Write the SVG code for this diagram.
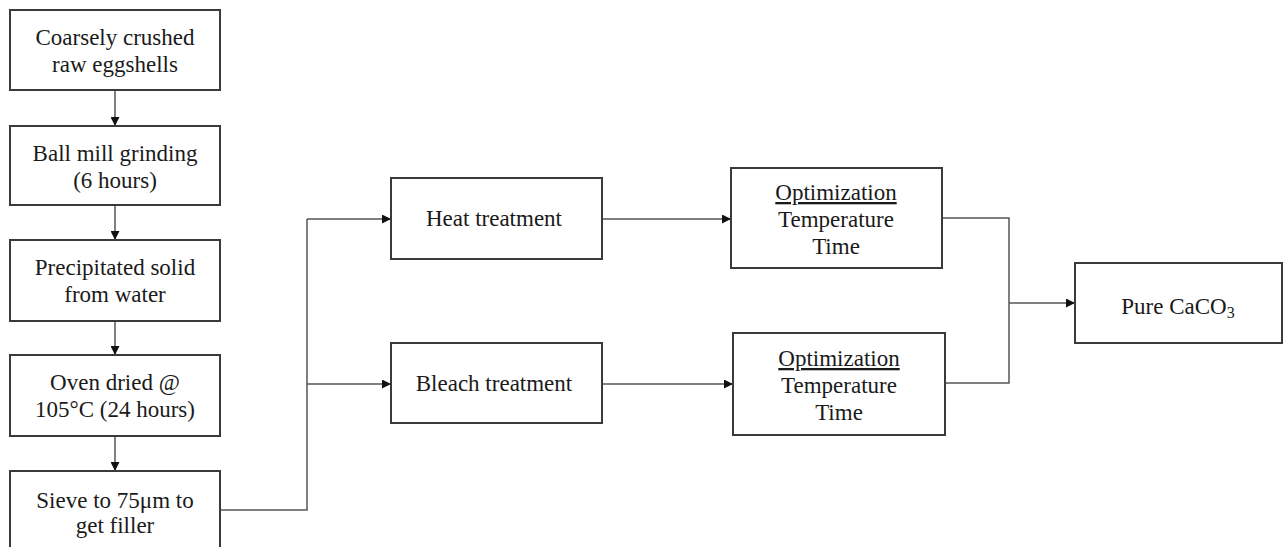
<svg xmlns="http://www.w3.org/2000/svg" width="1284" height="547" viewBox="0 0 1284 547">
<style>
.box{fill:#fff;stroke:#3a3a3a;stroke-width:2}
.t{font-family:"Liberation Serif","Times New Roman",serif;font-size:23px;fill:#1a1a1a;text-anchor:middle}
.c{fill:none;stroke:#555;stroke-width:1.5}
</style>
<defs>
<marker id="ah" viewBox="0 0 10 10" refX="10" refY="5" markerWidth="9" markerHeight="9" markerUnits="userSpaceOnUse" orient="auto">
<path d="M0,0 L10,5 L0,10 z" fill="#111"/>
</marker>
</defs>
<rect width="1284" height="547" fill="#fff"/>
<g id="connectors">
<line class="c" x1="115" y1="90" x2="115" y2="126" marker-end="url(#ah)"/>
<line class="c" x1="115" y1="205" x2="115" y2="240" marker-end="url(#ah)"/>
<line class="c" x1="115" y1="321" x2="115" y2="355" marker-end="url(#ah)"/>
<line class="c" x1="115" y1="436" x2="115" y2="471" marker-end="url(#ah)"/>
<polyline class="c" points="220,510 307,510 307,219"/>
<line class="c" x1="307" y1="219" x2="391" y2="219" marker-end="url(#ah)"/>
<line class="c" x1="307" y1="384" x2="391" y2="384" marker-end="url(#ah)"/>
<line class="c" x1="602" y1="219" x2="731" y2="219" marker-end="url(#ah)"/>
<line class="c" x1="602" y1="384" x2="733" y2="384" marker-end="url(#ah)"/>
<polyline class="c" points="942,218 1009,218 1009,383 945,383"/>
<line class="c" x1="1009" y1="303" x2="1075" y2="303" marker-end="url(#ah)"/>
</g>
<g id="n1"><rect class="box" x="10" y="10" width="210" height="80"/>
<text class="t" x="115" y="45">Coarsely crushed</text><text class="t" x="115" y="72">raw eggshells</text></g>
<g id="n2"><rect class="box" x="10" y="126" width="210" height="79"/>
<text class="t" x="115" y="161">Ball mill grinding</text><text class="t" x="115" y="188">(6 hours)</text></g>
<g id="n3"><rect class="box" x="10" y="240" width="210" height="81"/>
<text class="t" x="115" y="275">Precipitated solid</text><text class="t" x="115" y="302">from water</text></g>
<g id="n4"><rect class="box" x="10" y="355" width="210" height="81"/>
<text class="t" x="115" y="390">Oven dried @</text><text class="t" x="115" y="417">105°C (24 hours)</text></g>
<g id="n5"><rect class="box" x="10" y="471" width="210" height="90"/>
<text class="t" x="115" y="508">Sieve to 75μm to</text><text class="t" x="115" y="533">get filler</text></g>
<g id="n6"><rect class="box" x="391" y="178" width="211" height="81"/>
<text class="t" x="494" y="226">Heat treatment</text></g>
<g id="n7"><rect class="box" x="391" y="343" width="211" height="80"/>
<text class="t" x="494" y="391">Bleach treatment</text></g>
<g id="n8"><rect class="box" x="731" y="168" width="211" height="100"/>
<text class="t" x="836" y="200" text-decoration="underline">Optimization</text><text class="t" x="836" y="227">Temperature</text><text class="t" x="836" y="254">Time</text></g>
<g id="n9"><rect class="box" x="733" y="333" width="212" height="102"/>
<text class="t" x="839" y="366" text-decoration="underline">Optimization</text><text class="t" x="839" y="393">Temperature</text><text class="t" x="839" y="420">Time</text></g>
<g id="n10"><rect class="box" x="1075" y="263" width="207" height="80"/>
<text class="t" x="1178" y="314">Pure CaCO<tspan font-size="16" dy="4">3</tspan></text></g>
</svg>
